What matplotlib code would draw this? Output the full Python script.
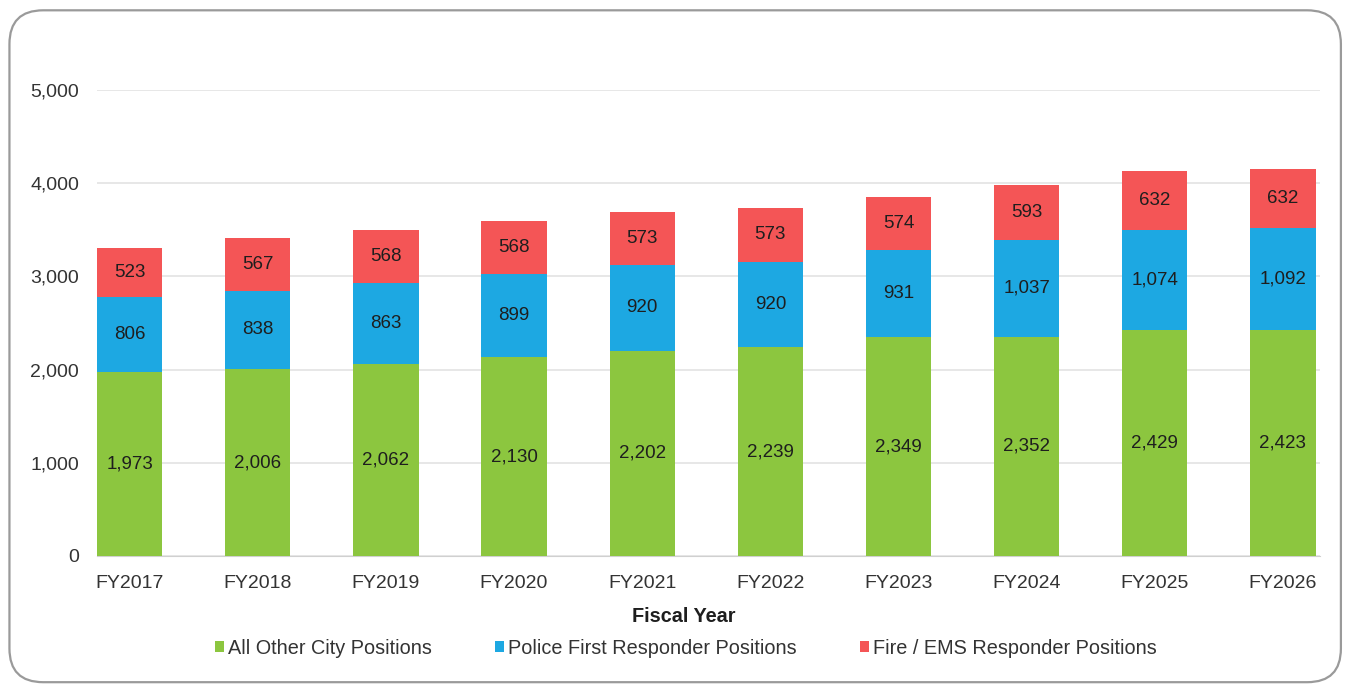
import matplotlib
matplotlib.use("Agg")
import matplotlib.pyplot as plt
from matplotlib.patches import FancyBboxPatch
from matplotlib.ticker import FuncFormatter

plt.rcParams['font.family'] = ['Liberation Sans', 'DejaVu Sans']

years = ["FY2017", "FY2018", "FY2019", "FY2020", "FY2021",
         "FY2022", "FY2023", "FY2024", "FY2025", "FY2026"]
other_city = [1973, 2006, 2062, 2130, 2202, 2239, 2349, 2352, 2429, 2423]
police = [806, 838, 863, 899, 920, 920, 931, 1037, 1074, 1092]
fire_ems = [523, 567, 568, 568, 573, 573, 574, 593, 632, 632]

series_names = ["All Other City Positions", "Police First Responder Positions",
                "Fire / EMS Responder Positions"]
colors = ["#8CC63F", "#1DA8E2", "#F45556"]

W, H = 1349, 687
fig = plt.figure(figsize=(W / 100, H / 100), dpi=100)
fig.patch.set_facecolor("white")

# rounded outer frame
frame = FancyBboxPatch((0.007, 0.007), 0.987, 0.978,
                       boxstyle="round,pad=0,rounding_size=0.025",
                       transform=fig.transFigure, facecolor="none",
                       edgecolor="#9a9a9a", linewidth=1.6, mutation_aspect=W / H,
                       zorder=-10)
fig.patches.append(frame)

ax = fig.add_axes([0.0719, 0.1907, 0.9066, 0.6783])
ax.set_facecolor("none")

x = list(range(len(years)))
width = 0.51
bottom = [0] * len(years)
for vals, col, name in zip([other_city, police, fire_ems], colors, series_names):
    ax.bar(x, vals, width, bottom=bottom, color=col, label=name, zorder=3)
    for xi, b, v in zip(x, bottom, vals):
        ax.text(xi, b + v / 2, f"{v:,}", ha="center", va="center",
                fontsize=13.5, color="#1e1e1e", zorder=4)
    bottom = [b + v for b, v in zip(bottom, vals)]

ax.set_ylim(0, 5000)
ax.set_xlim(-0.255, len(years) - 1 + 0.29)
ax.set_yticks([0, 1000, 2000, 3000, 4000, 5000])
ax.yaxis.set_major_formatter(FuncFormatter(lambda v, p: f"{int(v):,}"))
ax.set_xticks(x)
ax.set_xticklabels(years)
ax.grid(axis="y", color="#e3e3e3", linewidth=1.2, zorder=0)
for s in ["top", "right", "left"]:
    ax.spines[s].set_visible(False)
ax.spines["bottom"].set_color("#d0d0d0")
ax.tick_params(axis="both", length=0, labelsize=14, labelcolor="#333333")
ax.tick_params(axis="y", pad=13)
ax.tick_params(axis="x", pad=14)

fig.text(684 / W, 1 - 616 / H, "Fiscal Year", ha="center", va="center",
         fontsize=14.3, fontweight="bold", color="#1e1e1e")

handles, labels = ax.get_legend_handles_labels()
leg = fig.legend(handles, labels, loc="center", bbox_to_anchor=(686 / W, 1 - 648 / H),
                 bbox_transform=fig.transFigure, ncol=3, frameon=False,
                 fontsize=14.3, handlelength=0.45, handleheight=0.45, handletextpad=0.2,
                 columnspacing=3.2, borderpad=0, borderaxespad=0)
for t in leg.get_texts():
    t.set_color("#333333")

fig.savefig("out.png", dpi=100)
